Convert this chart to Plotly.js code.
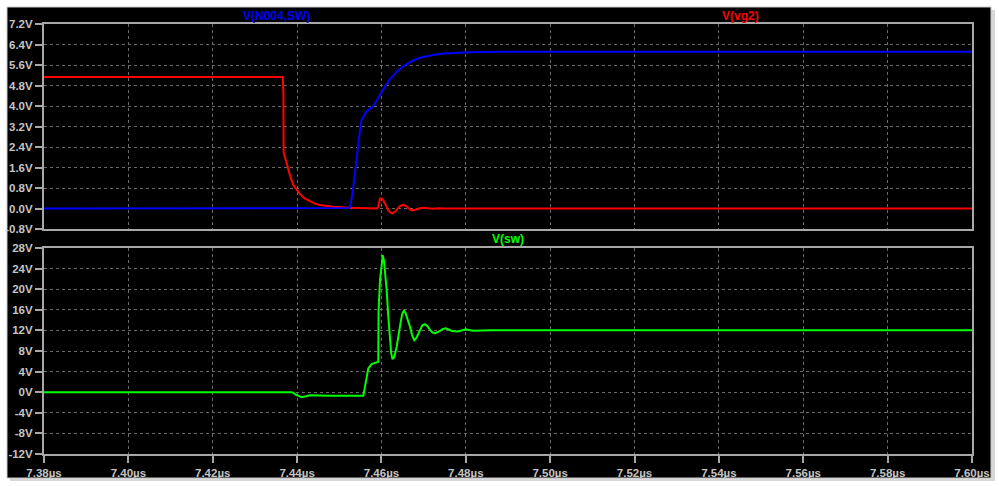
<!DOCTYPE html>
<html>
<head>
<meta charset="utf-8">
<script src="https://cdn.plot.ly/plotly-3.0.1.min.js"></script>
<style>html,body{margin:0;padding:0;background:#fff;}#chart{width:999px;height:486px;}</style>
</head>
<body>
<div id="chart"></div>
<script>
// ---- data (time in µs, voltage in V) ----
const vg2_t = [7.38, 7.4366, 7.43672, 7.43676, 7.4368, 7.4371, 7.43754, 7.4383, 7.4391, 7.4399, 7.44069, 7.4418, 7.44306, 7.4442, 7.44543, 7.44851, 7.45254, 7.45887, 7.45918, 7.4594, 7.45965, 7.45989, 7.4602, 7.4605, 7.46108, 7.4616, 7.4621, 7.46267, 7.4632, 7.46392, 7.4645, 7.46518, 7.4658, 7.46636, 7.467, 7.46755, 7.4682, 7.469, 7.46992, 7.471, 7.47222, 7.4734, 7.47459, 7.60];
const vg2_v = [5.13, 5.13, 4.6, 4.6, 2.2, 2.0, 1.75, 1.3, 0.92, 0.72, 0.56, 0.39, 0.27, 0.19, 0.14, 0.07, 0.03, 0.0, 0.05, 0.25, 0.38, 0.4, 0.38, 0.3, 0.1, -0.07, -0.16, -0.19, -0.12, 0.03, 0.11, 0.14, 0.1, 0.02, -0.06, -0.08, -0.04, 0.01, 0.03, 0.0, -0.01, 0.01, 0.0, 0.0];

const n004_t = [7.38, 7.45207, 7.4523, 7.45254, 7.4529, 7.45333, 7.45413, 7.45491, 7.4553, 7.4558, 7.4561, 7.4569, 7.45769, 7.45847, 7.4595, 7.46044, 7.46203, 7.4636, 7.46518, 7.46714, 7.46914, 7.4711, 7.4731, 7.475, 7.47703, 7.48099, 7.48881, 7.60];
const n004_v = [0.0, 0.0, 0.02, 0.07, 0.35, 0.85, 2.03, 3.06, 3.45, 3.65, 3.71, 3.85, 3.93, 4.1, 4.4, 4.65, 5.05, 5.33, 5.55, 5.75, 5.88, 5.96, 6.02, 6.05, 6.07, 6.1, 6.12, 6.12];

const sw_t = [7.38, 7.43872, 7.4392, 7.43974, 7.44109, 7.44211, 7.44306, 7.4478, 7.45136, 7.4557, 7.4561, 7.45688, 7.45769, 7.45902, 7.45925, 7.45932, 7.45966, 7.46006, 7.4603, 7.4606, 7.4609, 7.46124, 7.4616, 7.46203, 7.4623, 7.46262, 7.463, 7.46361, 7.4641, 7.46463, 7.465, 7.46535, 7.4657, 7.4662, 7.46677, 7.4673, 7.46779, 7.4683, 7.46914, 7.4697, 7.47032, 7.4709, 7.47151, 7.4721, 7.47269, 7.4733, 7.47388, 7.4746, 7.47523, 7.4759, 7.47665, 7.47815, 7.479, 7.47997, 7.4817, 7.4857, 7.60];
const sw_v = [0.0, 0.0, -0.2, -0.5, -0.99, -0.75, -0.6, -0.7, -0.65, -0.7, 1.07, 4.63, 5.47, 5.73, 5.9, 16.0, 21.8, 24.7, 26.6, 25.5, 23.0, 19.8, 15.0, 10.1, 7.6, 6.4, 6.8, 8.8, 11.5, 14.0, 15.4, 15.8, 15.4, 14.2, 12.7, 11.0, 10.1, 10.6, 12.1, 13.0, 13.2, 12.8, 12.1, 11.6, 11.4, 11.6, 11.9, 12.3, 12.4, 12.2, 11.9, 11.8, 12.0, 12.2, 11.95, 12.05, 12.05];

const xTickVals = [7.38, 7.40, 7.42, 7.44, 7.46, 7.48, 7.50, 7.52, 7.54, 7.56, 7.58, 7.60];
const xTickText = ["7.38µs", "7.40µs", "7.42µs", "7.44µs", "7.46µs", "7.48µs", "7.50µs", "7.52µs", "7.54µs", "7.56µs", "7.58µs", "7.60µs"];
const y1TickVals = [-0.8, 0.0, 0.8, 1.6, 2.4, 3.2, 4.0, 4.8, 5.6, 6.4, 7.2];
const y1TickText = ["-0.8V", "0.0V", "0.8V", "1.6V", "2.4V", "3.2V", "4.0V", "4.8V", "5.6V", "6.4V", "7.2V"];
const y2TickVals = [-12, -8, -4, 0, 4, 8, 12, 16, 20, 24, 28];
const y2TickText = ["-12V", "-8V", "-4V", "0V", "4V", "8V", "12V", "16V", "20V", "24V", "28V"];
const seriesNames = ["V(N004,SW)", "V(vg2)", "V(sw)"];
const seriesColors = ["#0000ff", "#ff0000", "#00ff00"];

// ---- chart ----
const W = 999, H = 486, L = 44, R = 27, T = 24, B = 32;
const pw = W - L - R, ph = H - T - B;
const px = p => (p - L) / pw;           // pixel x -> paper
const py = p => (H - B - p) / ph;       // pixel y -> paper
const bold = arr => arr.map(s => "<b>" + s + "</b>");

const FAM = "'Liberation Sans', Arial, sans-serif";
const font = {family: FAM, size: 11.5, color: "#c4c4c4"};
const axisCommon = {
  showline: true, mirror: true, linecolor: "#a8a8a8", linewidth: 2,
  showgrid: true, gridcolor: "#6a6a6a", griddash: "dot", gridwidth: 1,
  zeroline: false, tickfont: font, fixedrange: true
};

const traces = [
  {x: vg2_t, y: vg2_v, xaxis: "x", yaxis: "y", mode: "lines", name: seriesNames[1], line: {color: seriesColors[1], width: 2}},
  {x: n004_t, y: n004_v, xaxis: "x", yaxis: "y", mode: "lines", name: seriesNames[0], line: {color: seriesColors[0], width: 2}},
  {x: sw_t, y: sw_v, xaxis: "x2", yaxis: "y2", mode: "lines", name: seriesNames[2], line: {color: seriesColors[2], width: 2}}
];

const layout = {
  width: W, height: H,
  margin: {l: L, r: R, t: T, b: B},
  paper_bgcolor: "#ffffff", plot_bgcolor: "#000000",
  showlegend: false,
  xaxis: Object.assign({}, axisCommon, {domain: [0, 1], range: [7.38, 7.60], anchor: "y", tickvals: xTickVals, ticktext: bold(xTickText), showticklabels: false, ticks: ""}),
  yaxis: Object.assign({}, axisCommon, {domain: [py(229), 1], range: [-0.8, 7.2], anchor: "x", tickvals: y1TickVals, ticktext: bold(y1TickText), ticks: "outside", ticklen: 7, tickwidth: 2, tickcolor: "#a8a8a8"}),
  xaxis2: Object.assign({}, axisCommon, {domain: [0, 1], range: [7.38, 7.60], anchor: "y2", tickvals: xTickVals, ticktext: bold(xTickText), ticks: "outside", ticklen: 7, tickwidth: 2, tickcolor: "#a8a8a8"}),
  yaxis2: Object.assign({}, axisCommon, {domain: [0, py(248)], range: [-12, 28], anchor: "x2", tickvals: y2TickVals, ticktext: bold(y2TickText), ticks: "outside", ticklen: 7, tickwidth: 2, tickcolor: "#a8a8a8"}),
  shapes: [
    {type: "rect", xref: "paper", yref: "paper", x0: px(10), x1: px(995), y0: py(481), y1: py(10), fillcolor: "#d8d8d8", line: {width: 0}, layer: "below"},
    {type: "rect", xref: "paper", yref: "paper", x0: px(7), x1: px(991), y0: py(478), y1: py(7), fillcolor: "#000000", line: {color: "#c8c8c8", width: 1}, layer: "below"}
  ],
  annotations: [
    {xref: "paper", yref: "paper", x: 0.25, y: py(16), text: "<b>" + seriesNames[0] + "</b>", showarrow: false, font: {family: FAM, size: 12, color: seriesColors[0]}, xanchor: "center", yanchor: "middle"},
    {xref: "paper", yref: "paper", x: 0.75, y: py(16), text: "<b>" + seriesNames[1] + "</b>", showarrow: false, font: {family: FAM, size: 12, color: seriesColors[1]}, xanchor: "center", yanchor: "middle"},
    {xref: "paper", yref: "paper", x: 0.5, y: py(239), text: "<b>" + seriesNames[2] + "</b>", showarrow: false, font: {family: FAM, size: 12, color: seriesColors[2]}, xanchor: "center", yanchor: "middle"}
  ]
};

Plotly.newPlot("chart", traces, layout, {staticPlot: true, displayModeBar: false});
</script>
</body>
</html>
